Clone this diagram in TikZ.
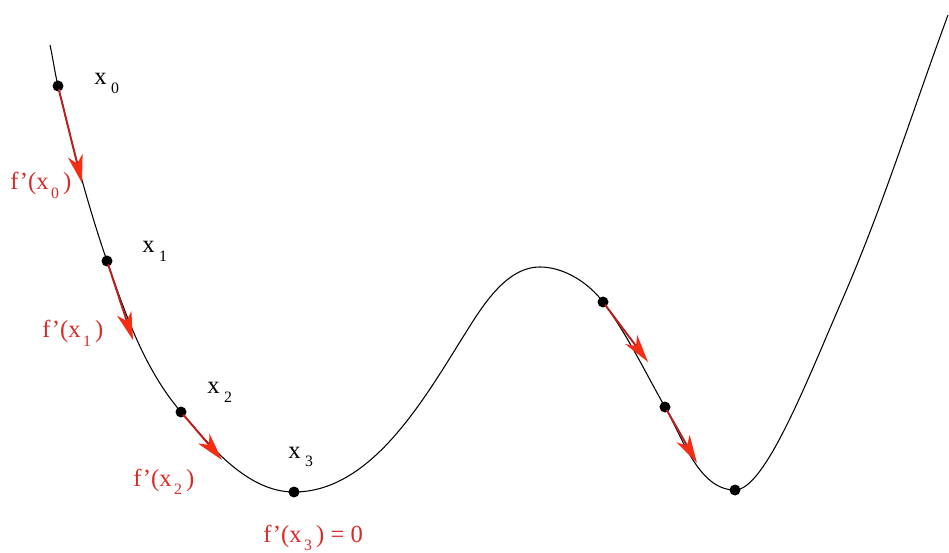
\documentclass[tikz,border=0pt]{standalone}
\usepackage{fontspec}
\setmainfont{Liberation Serif}
\usetikzlibrary{arrows.meta,positioning}
\definecolor{labelred}{RGB}{218,42,38}
\definecolor{shaftred}{RGB}{190,30,30}
\definecolor{headred}{RGB}{245,45,20}
\newcommand{\subidx}[1]{\kern2.5pt\raisebox{-0.75ex}{\fontsize{9}{10}\selectfont #1}}

\begin{document}
\begin{tikzpicture}[
    x=0.02cm, y=-0.02cm,
    dot/.style={circle,fill=black,inner sep=0pt,minimum size=0.22cm},
    xlabel/.style={anchor=base west,inner sep=0pt,font=\fontsize{14}{16}\selectfont},
    flabel/.style={xlabel,text=labelred},
    arrow/.style={-{Stealth[length=5.6mm,width=3mm,inset=1.6mm,color=headred]},
                  draw=shaftred,line width=1.1pt,shorten <=2pt}
]
    \useasboundingbox (0,0) rectangle (949,553);
    % points on the curve
    \coordinate (top) at (50,45);
    \coordinate (c0) at (58,86);
    \coordinate (c1) at (107,261);
    \coordinate (c2) at (181,412);
    \coordinate (c3) at (294,492);
    \coordinate (bend) at (463,337);
    \coordinate (peak) at (540,267);
    \coordinate (e0) at (603,302);
    \coordinate (e1) at (665,407);
    \coordinate (e2) at (735,490);
    \coordinate (rise) at (843,298);
    \coordinate (end) at (948,15);
    % the function
    \draw[line width=0.6pt] (top)
        .. controls (53,58.7) and (54.8,72.4) .. (c0)
        .. controls (72.1,145) and (87.2,203.7) .. (c1)
        .. controls (125.3,314) and (144.5,369.4) .. (c2)
        .. controls (211,447.1) and (247.8,492) .. (c3)
        .. controls (370.4,492) and (422.5,401.8) .. (bend)
        .. controls (481.4,307.6) and (505.3,267) .. (peak)
        .. controls (564,267) and (588.6,282.8) .. (e0)
        .. controls (627.4,334.5) and (644.9,371.8) .. (e1)
        .. controls (683,438.4) and (698.8,490) .. (e2)
        .. controls (765,490) and (807.1,380.5) .. (rise)
        .. controls (883.1,205.7) and (913.1,109.4) .. (end);
    % iterates
    \node[dot] (p0) at (c0) {};
    \node[dot] (p1) at (c1) {};
    \node[dot] (p2) at (c2) {};
    \node[dot] (p3) at (c3) {};
    \node[dot] (q0) at (e0) {};
    \node[dot] (q1) at (e1) {};
    \node[dot] (q2) at (e2) {};
    % gradient tips
    \coordinate (t0) at (82,183);
    \coordinate (t1) at (133,340);
    \coordinate (t2) at (222,460);
    \coordinate (u0) at (648,362);
    \coordinate (u1) at (697,463);
    \draw[arrow] (p0.center)--(t0);
    \draw[arrow] (p1.center)--(t1);
    \draw[arrow] (p2.center)--(t2);
    \draw[arrow] (q0.center)--(u0);
    \draw[arrow] (q1.center)--(u1);
    % labels
    \node[xlabel] (x0) at (94,85) {x\subidx{0}};
    \node[xlabel] (x1) at (142,253) {x\subidx{1}};
    \node[xlabel] (x2) at (207,394) {x\subidx{2}};
    \node[xlabel] (x3) at (288,458) {x\subidx{3}};
    \node[flabel] (f0) at (10,190) {f’(x\kern-1pt\subidx{0}\,)};
    \node[flabel] (f1) at (42,338) {f’(x\kern-1pt\subidx{1}\,)};
    \node[flabel] (f2) at (133,486) {f’(x\kern-1pt\subidx{2}\,)};
    \node[flabel] (f3) at (263,542) {f’(x\kern-1pt\subidx{3}\,) = 0};
\end{tikzpicture}
\end{document}
